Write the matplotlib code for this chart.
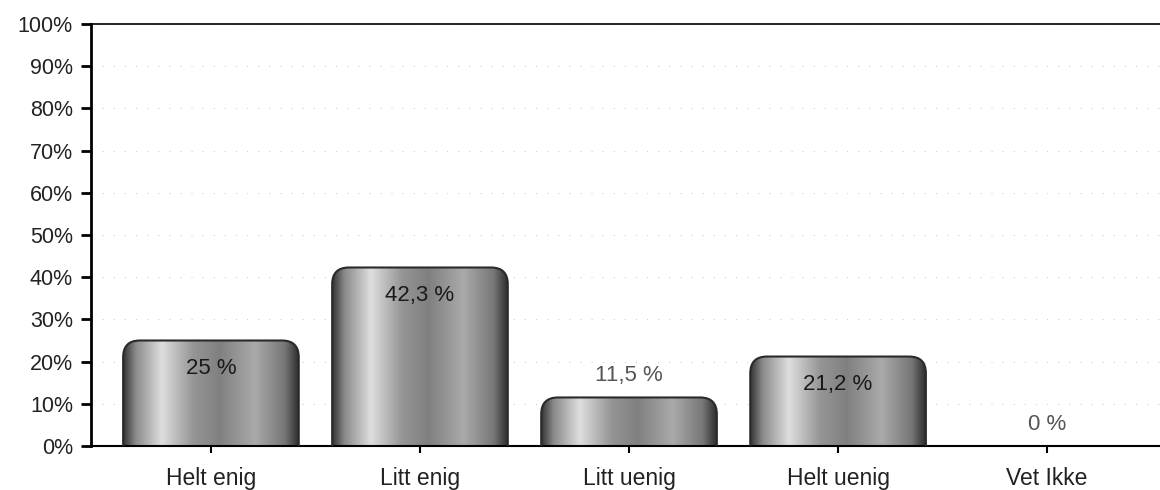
import matplotlib
matplotlib.use("Agg")
import matplotlib.pyplot as plt
import numpy as np
from matplotlib.patches import FancyBboxPatch
from matplotlib.colors import LinearSegmentedColormap

plt.rcParams['font.family'] = ['Liberation Sans', 'DejaVu Sans']

# --- data
categories = ["Helt enig", "Litt enig", "Litt uenig", "Helt uenig", "Vet Ikke"]
values = [25, 42.3, 11.5, 21.2, 0]
value_labels = ["25 %", "42,3 %", "11,5 %", "21,2 %", "0 %"]

fig = plt.figure(figsize=(11.6, 4.9), dpi=100)
ax = fig.add_axes([0.0784, 0.0898, 0.9216, 0.8612])

x = np.arange(len(categories))
width = 0.84
rad = 0.08             # corner radius (x units)
aspect = 49.5          # px per x unit / px per y unit

# gray gradient like the 3D cylinder look
grays = LinearSegmentedColormap.from_list(
    "bar", [(0.0, "#333333"), (0.07, "#8a8a8a"), (0.22, "#dedede"),
            (0.40, "#959595"), (0.55, "#808080"), (0.75, "#aaaaaa"),
            (0.92, "#777777"), (1.0, "#2e2e2e")])
grad = np.linspace(0, 1, 256).reshape(1, -1)

bars = ax.bar(x, values, width=width, color="none", edgecolor="none")
for b, v in zip(bars, values):
    if v <= 0:
        continue
    x0 = b.get_x()
    w = b.get_width()
    y0 = -rad * aspect
    h = v - y0
    patch = FancyBboxPatch((x0, y0), w, h,
                           boxstyle="round,pad=0,rounding_size=%g" % rad,
                           mutation_aspect=aspect,
                           facecolor="none", edgecolor="#2a2a2a", lw=1.5,
                           zorder=3)
    ax.add_patch(patch)
    im = ax.imshow(grad, cmap=grays, aspect="auto",
                   extent=(x0, x0 + w, y0, v), zorder=2)
    im.set_clip_path(patch)

# value labels
for xi, v, lab in zip(x, values, value_labels):
    if v > 15:
        ax.text(xi, v - 6.7, lab, ha="center", va="center",
                fontsize=16, color="#1a1a1a", zorder=4)
    else:
        ax.text(xi, v + 5.2, lab, ha="center", va="center",
                fontsize=16, color="#555555", zorder=4)

ax.set_xlim(-0.574, 4.54)
ax.set_ylim(0, 100)
ax.set_yticks(np.arange(0, 101, 10))
ax.set_yticklabels(["%d%%" % t for t in range(0, 101, 10)], fontsize=15.5,
                   color="#222222")
ax.set_xticks(x)
ax.set_xticklabels(categories, fontsize=16.5, color="#222222")
ax.tick_params(axis="y", length=7, width=2, pad=6)
ax.tick_params(axis="x", length=5, width=1.5, pad=10)

ax.yaxis.grid(True, color="#d0d0d0", linestyle=(0, (1, 9)), linewidth=0.8)
ax.set_axisbelow(True)

ax.spines["right"].set_visible(False)
ax.spines["left"].set_linewidth(2)
ax.spines["bottom"].set_linewidth(1.5)
ax.spines["top"].set_linewidth(1.2)

fig.savefig("out.png", dpi=100)
